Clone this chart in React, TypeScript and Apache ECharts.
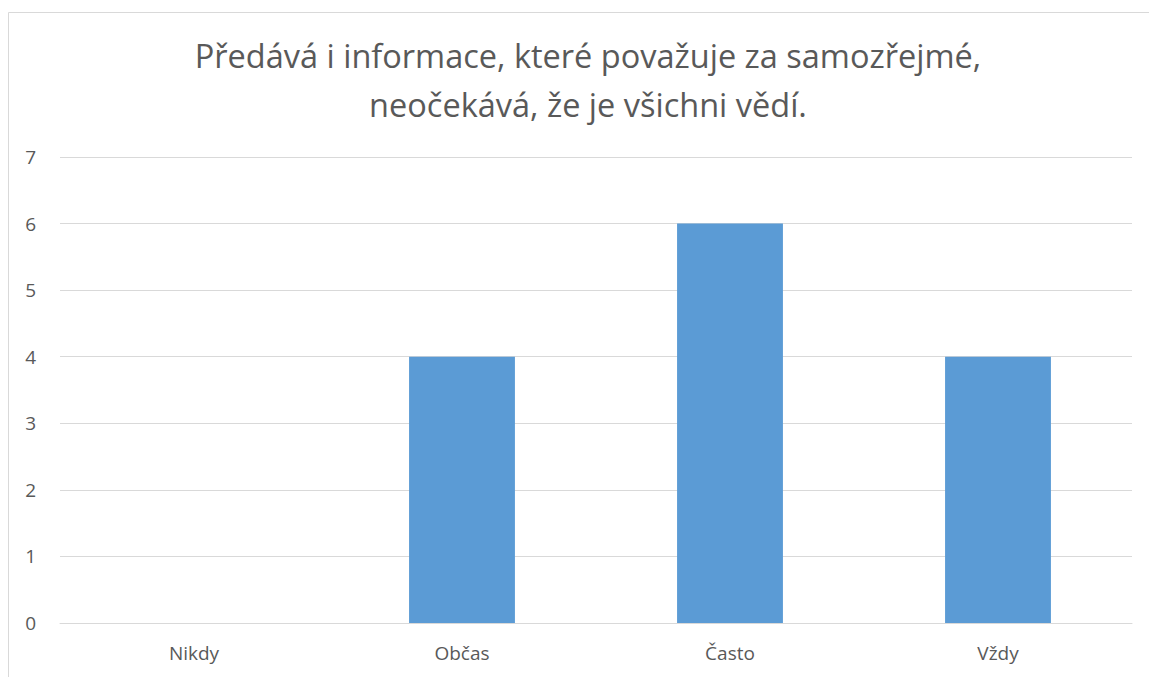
import React, { useEffect, useRef } from "react";
import * as echarts from "echarts";

const categories = ["Nikdy", "Občas", "Často", "Vždy"];
const values = [0, 4, 6, 4];
const titleLines = ["Předává i informace, které považuje za samozřejmé,", "neočekává, že je všichni vědí."];

export default function App() {
  const ref = useRef<HTMLDivElement>(null);
  useEffect(() => {
    document.body.style.margin = "0";
    const chart = echarts.init(ref.current!, null, { renderer: "svg" });
    const font = "'Open Sans', sans-serif";
    chart.setOption({
      animation: false,
      backgroundColor: "#ffffff",
      title: {
        text: titleLines.join("\n"),
        left: 583,
        top: 26,
        textAlign: "center",
        textStyle: { fontFamily: font, fontSize: 32.5, fontWeight: "normal", color: "#595959", lineHeight: 49 },
      },
      graphic: [
        {
          type: "rect",
          shape: { x: 8.5, y: 12.5, width: 1200, height: 700 },
          style: { fill: "none", stroke: "#d9d9d9", lineWidth: 1 },
          silent: true,
        },
      ],
      grid: { left: 60, right: 17, top: 157, bottom: 54, containLabel: false },
      xAxis: {
        type: "category",
        data: categories,
        axisLine: { show: true, lineStyle: { color: "#d9d9d9", width: 1 } },
        axisTick: { show: false },
        axisLabel: { color: "#595959", fontSize: 19, fontFamily: font, margin: 20 },
      },
      yAxis: {
        type: "value",
        min: 0,
        max: 7,
        interval: 1,
        axisLine: { show: false },
        axisTick: { show: false },
        splitLine: { lineStyle: { color: "#d9d9d9", width: 1 } },
        axisLabel: { color: "#595959", fontSize: 19, fontFamily: font, margin: 24 },
      },
      series: [
        {
          type: "bar",
          data: values,
          barWidth: "39.5%",
          itemStyle: { color: "#5b9bd5" },
        },
      ],
    });
    return () => chart.dispose();
  }, []);
  return <div ref={ref} style={{ width: 1149, height: 677 }} />;
}
